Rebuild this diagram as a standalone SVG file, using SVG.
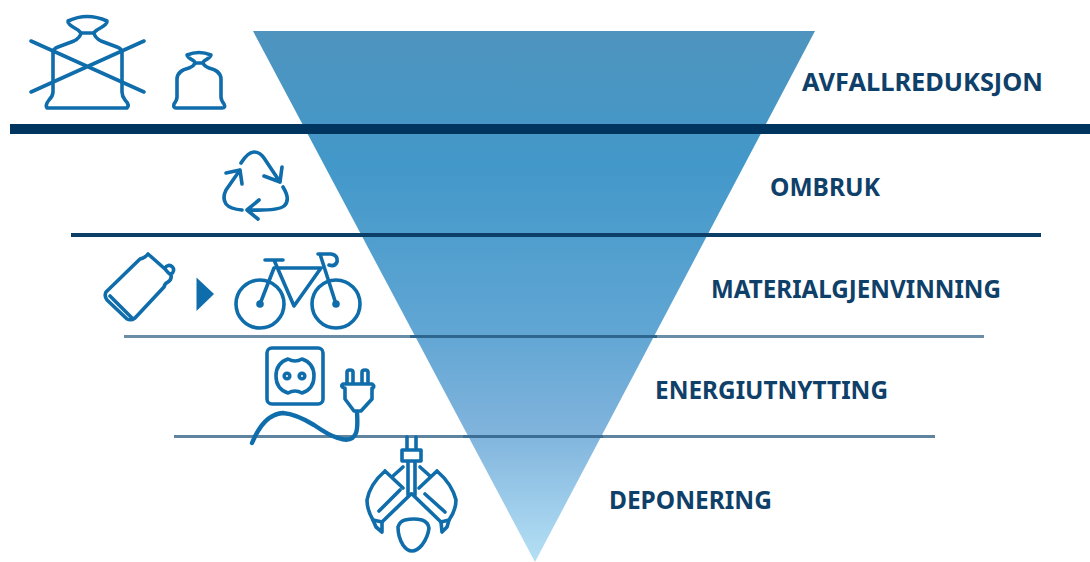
<svg xmlns="http://www.w3.org/2000/svg" width="1090" height="562" viewBox="0 0 1090 562">
<style>
.i{fill:none;stroke:#0f6dab;stroke-width:3.600;stroke-linecap:round;stroke-linejoin:round}
.t{font-family:"Noto Sans","Open Sans","Liberation Sans",sans-serif;font-weight:700;font-size:24.500px;fill:#0f4069}
</style>
<defs>
<linearGradient id="g" x1="0" y1="31" x2="0" y2="562" gradientUnits="userSpaceOnUse">
<stop offset="0" stop-color="#4f94bf"/><stop offset="0.25" stop-color="#4298c9"/><stop offset="0.55" stop-color="#5fa5d3"/><stop offset="0.75" stop-color="#7fb3dc"/><stop offset="1" stop-color="#b5e0f5"/>
</linearGradient>
</defs>
<rect width="1090" height="562" fill="#fff"/>
<g id="triangle"><polygon points="253,31 815,31 535,562" fill="url(#g)"/></g>
<g id="connectors">
<rect x="10" y="124" width="1080" height="10" fill="#00355f"/>
<rect x="71" y="233" width="970" height="4" fill="#0b3f68"/>
<rect x="124" y="335" width="860" height="3" fill="#6a8da8"/>
<rect x="174" y="435" width="761" height="3" fill="#5f84a0"/>
<rect x="410" y="335" width="247" height="3" fill="#2f6690"/>
<rect x="463" y="435" width="140" height="3" fill="#3d6f96"/>
</g>
<g id="avfallreduksjon">
<path class="i" d="M68 21Q87 12 107 21Q108 24 97 30Q93 33 94 33H81Q81 33 78 30Q67 24 68 21Z"/>
<path class="i" d="M81 33Q80 38 74 41L58 47Q53 49 53 52V92Q53 96 49 100Q45 105 47 108H127Q130 105 125 100Q122 96 122 92V52Q122 49 117 47L101 41Q95 38 94 33"/>
<path class="i" d="M31 41L144 92M31 92L144 41"/>
<path class="i" d="M187 55Q199 50 211 55Q211 57 204 61L203 63H195L194 61Q187 57 187 55Z"/>
<path class="i" d="M195 63Q194 66 189 68Q177 71 177 79V97Q177 100 174 104Q173 108 176 108H222Q226 108 224 104Q221 100 221 97V79Q221 71 209 68Q204 66 203 63"/>
<text class="t" x="802" y="91" textLength="241" lengthAdjust="spacingAndGlyphs">AVFALLREDUKSJON</text>
</g>
<g id="ombruk">
<path class="i" d="M241 163Q248 152 254 152Q260 152 264 158L280 182M264 176L280 182L282 167"/>
<path class="i" d="M283 187Q291 200 284 206Q278 211 248 210M259 200L247 210L258 219"/>
<path class="i" d="M242 210Q230 209 226 204Q222 198 226 190L240 170M226 173L240 170L242 184"/>
<text class="t" x="770" y="196" textLength="110" lengthAdjust="spacingAndGlyphs">OMBRUK</text>
</g>
<g id="materialgjenvinning">
<path class="i" d="M106 292L140 259Q145 258 148 254L165 269Q168 273 171 275Q172 279 168 282Q165 283 164 287L135 318Q131 321 127 319L107 300Q104 296 106 292ZM110 296L132 318M165 268a4.500 4.500 0 1 1 6 6"/>
<polygon points="196.500,277.500 214,294 196.500,311" fill="#0f6dab"/>
<g class="i">
<circle cx="260" cy="304" r="24"/><circle cx="336" cy="304" r="24"/>
<path d="M260 304L274 268M265 260H283M274 260L294 306L321 268H277M318 254H331Q338 255 337 262Q335 267 329 265M320 254L336 304"/>
</g>
<circle cx="260" cy="304" r="3.800" fill="#0f6dab"/><circle cx="336" cy="304" r="3.800" fill="#0f6dab"/>
<text class="t" x="711" y="298" textLength="290" lengthAdjust="spacingAndGlyphs">MATERIALGJENVINNING</text>
</g>
<g id="energiutnytting">
<rect class="i" x="267" y="348" width="56" height="56" rx="5"/>
<path class="i" d="M288 359Q295 363 302 359Q314 363 314 376Q314 389 302 393Q295 389 288 393Q276 389 276 376Q276 363 288 359Z"/>
<circle class="i" cx="287" cy="376" r="2.800"/><circle class="i" cx="302" cy="376" r="2.800"/>
<path class="i" d="M347 384V372Q347 370 350 370Q353 370 353 372V384M362 384V372Q362 370 365 370Q368 370 368 372V384M343 384H372Q375 386 373 388H372V399L361 411H354L345 399V388H344Q340 386 343 384Z"/>
<path d="M252 443Q264 414 283 413Q296 414 314 425Q330 436 338 438Q352 443 356 433Q358 428 357 412" fill="none" stroke="#0f6dab" stroke-width="4.400" stroke-linecap="round" stroke-linejoin="round"/>
<text class="t" x="655" y="399" textLength="233" lengthAdjust="spacingAndGlyphs">ENERGIUTNYTTING</text>
</g>
<g id="deponering">
<path class="i" d="M407 437V450M416 437V450M402 450H421V461H402ZM408 461V495M415 461V495M403 467L393 476M420 467L430 476"/>
<path class="i" d="M385 471Q370 484 367 500Q367 510 373 520L382 522L411 494M385 471L403 488M437 471Q452 484 456 500Q456 510 449 520L441 522L412 494M437 471L419 488"/>
<path class="i" d="M400 490L379 511M425 494L445 512M373 520L376 527L382 532L382 522M449 520L447 527L442 532L441 522"/>
<path class="i" d="M398 527Q400 521 405 520Q414 518 422 520Q428 522 429 528Q428 537 422 545Q417 551 412 551Q407 551 403 545Q398 537 398 527Z"/>
<text class="t" x="609" y="509" textLength="163" lengthAdjust="spacingAndGlyphs">DEPONERING</text>
</g>
</svg>
